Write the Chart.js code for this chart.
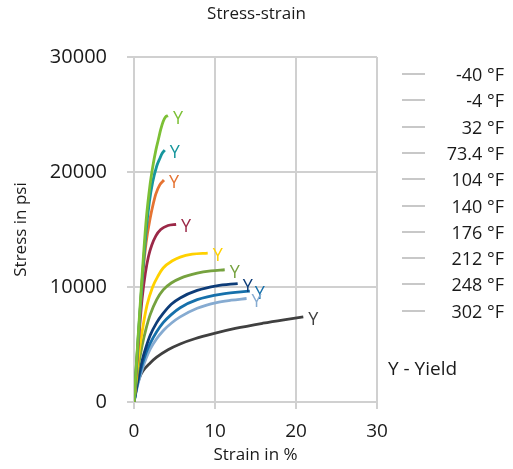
<!DOCTYPE html>
<html>
<head>
<meta charset="utf-8">
<script src="https://cdn.jsdelivr.net/npm/chart.js@4"></script>
<style>
  body { margin: 0; background: #fff; font-family: "Open Sans", sans-serif; }
  #wrap { position: relative; width: 513px; height: 469px; }
  #title { position: absolute; left: 0; width: 513px; top: 1px; text-align: center; font-size: 17px; color: #1a1a1a; }
  .leg-row { position: absolute; left: 402px; width: 102px; height: 24px; font-size: 18px; color: #1a1a1a; }
  .leg-row .ln { position: absolute; left: 0; top: 11px; width: 23px; height: 2px; background: #c8c8c8; }
  .leg-row .tx { position: absolute; right: 0; top: 0; line-height: 24px; white-space: nowrap; }
  #yieldNote { position: absolute; left: 388px; top: 355px; font-size: 19px; color: #1a1a1a; }
</style>
</head>
<body>
<div id="wrap">
  <canvas id="chart" width="513" height="469"></canvas>
  <div id="title">Stress-strain</div>
  <div id="legend"></div>
  <div id="yieldNote">Y - Yield</div>
</div>
<script>
// temperatures and line colours
const seriesLabels = ["-40 °F", "-4 °F", "32 °F", "73.4 °F", "104 °F", "140 °F", "176 °F", "212 °F", "248 °F", "302 °F"];
const seriesColors = ["#7cc035", "#16969c", "#e57332", "#9b2847", "#ffd100", "#76a23f", "#0d3c78", "#1670ab", "#86abd1", "#404040"];

// strain in %, stress in psi
const strainM40 = [0, 0.5, 1, 1.5, 2, 2.3, 2.7, 3, 3.3, 3.6, 3.9, 4.2];
const stressM40 = [0, 5600, 11000, 15800, 19000, 20400, 21900, 22800, 23700, 24400, 24800, 24900];
const strainM4 = [0, 0.5, 1, 1.5, 1.9, 2.3, 2.8, 3.2, 3.5, 3.8];
const stressM4 = [0, 5400, 10500, 14900, 17400, 19100, 20500, 21200, 21650, 21900];
const strain32 = [0, 0.5, 1.1, 1.5, 2, 2.4, 2.7, 3.2, 3.7];
const stress32 = [0, 5200, 11200, 13900, 16000, 17300, 18100, 18900, 19300];
const strain73 = [0, 0.5, 1, 1.4, 1.8, 2.2, 2.7, 3.3, 4.2, 5.2];
const stress73 = [0, 4800, 9000, 11200, 12700, 13650, 14450, 15000, 15350, 15450];
const strain104 = [0, 0.5, 1, 1.6, 2.3, 3, 3.6, 4.8, 5.7, 7.2, 9.1];
const stress104 = [0, 3600, 6100, 8400, 10000, 11000, 11650, 12300, 12600, 12850, 12950];
const strain140 = [0, 0.5, 1, 1.5, 2, 2.8, 3.6, 4.6, 5.7, 7.8, 9.5, 11.2];
const stress140 = [0, 2900, 4900, 6400, 7600, 8900, 9750, 10350, 10750, 11200, 11400, 11500];
const strain176 = [0, 0.5, 1, 1.5, 2, 2.8, 3.6, 4.6, 5.7, 7.8, 10.2, 12.8];
const stress176 = [0, 2000, 3600, 4800, 5800, 6900, 7700, 8500, 9050, 9700, 10100, 10300];
const strain212 = [0, 0.5, 1, 1.5, 2, 2.8, 3.6, 4.6, 5.7, 7.8, 11, 14.3];
const stress212 = [0, 1800, 3200, 4300, 5100, 6100, 6900, 7600, 8200, 8900, 9400, 9650];
const strain248 = [0, 0.5, 1, 1.5, 2, 2.8, 3.6, 4.6, 5.7, 7.8, 10.2, 12, 13.9];
const stress248 = [0, 1600, 2800, 3800, 4600, 5500, 6200, 6850, 7400, 8150, 8650, 8850, 9000];
const strain302 = [0, 0.3, 0.7, 1.1, 2, 2.8, 4.2, 5.7, 7.5, 9.8, 12.5, 15.9, 18.5, 20.9];
const stress302 = [0, 1200, 2150, 2700, 3400, 3900, 4550, 5050, 5500, 5950, 6400, 6850, 7150, 7400];

const strainSets = [strainM40, strainM4, strain32, strain73, strain104, strain140, strain176, strain212, strain248, strain302];
const stressSets = [stressM40, stressM4, stress32, stress73, stress104, stress140, stress176, stress212, stress248, stress302];

const xTicks = [0, 10, 20, 30];
const yTicks = [0, 10000, 20000, 30000];
const yieldMark = "Y";

const gridColor = "#d0d0d0";
const textColor = "#1a1a1a";

// legend on the right (the reference draws every legend line in grey)
document.getElementById("legend").innerHTML = seriesLabels.map((lab, i) =>
  `<div class="leg-row" style="top:${62 + i * 26.3}px"><div class="ln"></div><div class="tx">${lab}</div></div>`
).join("");

const yieldLabels = {
  id: "yieldLabels",
  afterDatasetsDraw(chart) {
    const ctx = chart.ctx;
    ctx.save();
    ctx.font = "18px 'Open Sans'";
    ctx.textAlign = "center";
    ctx.textBaseline = "middle";
    chart.data.datasets.forEach((ds, i) => {
      const pts = chart.getDatasetMeta(i).data;
      const last = pts[pts.length - 1];
      ctx.fillStyle = ds.borderColor;
      ctx.fillText(yieldMark, last.x + 10, last.y + 3);
    });
    ctx.restore();
  },
};

new Chart(document.getElementById("chart"), {
  type: "scatter",
  data: {
    datasets: seriesLabels.map((lab, i) => ({
      label: lab,
      data: strainSets[i].map((x, j) => ({ x: x, y: stressSets[i][j] })),
      showLine: true,
      borderColor: seriesColors[i],
      backgroundColor: seriesColors[i],
      borderWidth: 2.8,
      pointRadius: 0,
      cubicInterpolationMode: "monotone",
    })),
  },
  options: {
    responsive: false,
    animation: false,
    layout: { padding: { left: 0, right: 136, top: 57, bottom: 0 } },
    plugins: {
      legend: { display: false },
      tooltip: { enabled: false },
      title: { display: false },
    },
    scales: {
      x: {
        type: "linear", min: 0, max: 30,
        afterBuildTicks: (s) => { s.ticks = xTicks.map((v) => ({ value: v })); },
        afterFit: (s) => { s.height = 67; },
        grid: { color: gridColor, lineWidth: 2, tickLength: 7 },
        border: { color: gridColor, width: 2 },
        ticks: { color: textColor, font: { family: "Open Sans", size: 19 }, padding: 11, callback: (v) => String(v) },
        title: { display: true, text: "Strain in %", color: textColor, font: { family: "Open Sans", size: 17 }, padding: { top: 0, bottom: 4 } },
      },
      y: {
        type: "linear", min: 0, max: 30000,
        afterBuildTicks: (s) => { s.ticks = yTicks.map((v) => ({ value: v })); },
        afterFit: (s) => { s.width = 134; },
        grid: { color: gridColor, lineWidth: 2, tickLength: 7 },
        border: { color: gridColor, width: 2 },
        ticks: { color: textColor, font: { family: "Open Sans", size: 20 }, padding: 20, callback: (v) => String(v) },
        title: { display: true, text: "Stress in psi", color: textColor, font: { family: "Open Sans", size: 17 }, padding: { top: 11, bottom: 0 } },
      },
    },
  },
  plugins: [yieldLabels],
});
</script>
</body>
</html>
